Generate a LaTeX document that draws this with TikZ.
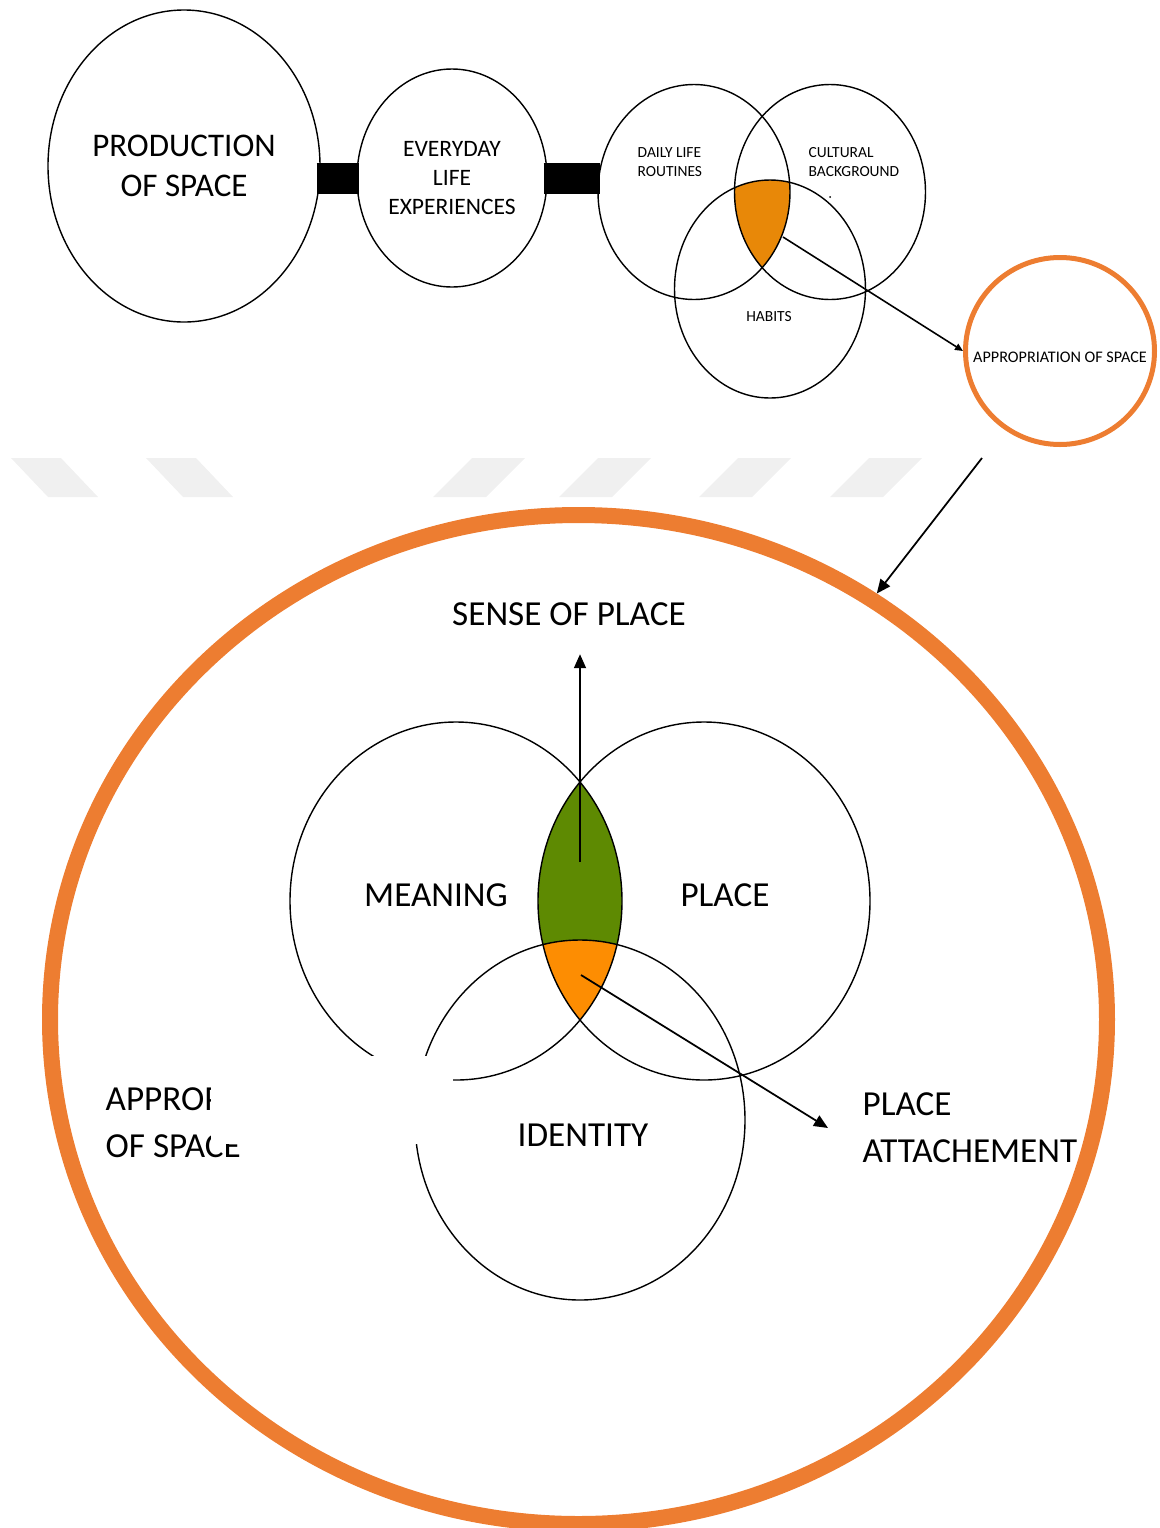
\documentclass[tikz,border=0pt]{standalone}
\usepackage{fontspec}
\setmainfont{Carlito}
\usepackage{xcolor}
\usetikzlibrary{positioning,arrows.meta,shapes.geometric,backgrounds}

\definecolor{ringorange}{RGB}{237,125,49}
\definecolor{lensorange}{RGB}{232,136,8}
\definecolor{coreorange}{RGB}{253,141,2}
\definecolor{lensgreen}{RGB}{94,138,2}
\definecolor{markgrey}{RGB}{240,240,240}

\begin{document}
\begin{tikzpicture}[
    x=0.1mm, y=-0.1mm,
    blob/.style={
        ellipse,
        draw,
        line width=0.4pt,
        inner sep=0pt,
        align=center
    },
    ring/.style={
        ellipse,
        draw=ringorange,
        inner sep=0pt
    },
    link/.style={
        line width=3.1mm,
        shorten <=-0.4mm,
        shorten >=-0.3mm
    },
    arrow/.style={
        -{Triangle[length=1.4mm,width=1.2mm]},
        line width=0.5pt
    },
    minarrow/.style={
        -{Triangle[length=0.8mm,width=0.7mm]},
        line width=0.45pt
    },
    bigtext/.style={font=\fontsize{9.4}{11.3}\selectfont},
    midtext/.style={font=\fontsize{6.7}{8.2}\selectfont},
    tinytext/.style={font=\fontsize{4.4}{5.4}\selectfont, inner sep=0pt},
    lowtext/.style={font=\fontsize{10}{13.3}\selectfont, inner sep=0pt}
]

\useasboundingbox (0,0) rectangle (1160,1528);

% Chain
\node[blob, bigtext, minimum width=27.2mm, minimum height=31.2mm] (prod) at (184,166)
{PRODUCTION\\OF SPACE};

\node[blob, midtext, minimum width=19.0mm, minimum height=21.8mm] (every) at (452,178)
{EVERYDAY\\LIFE\\EXPERIENCES};

% Small venn
\node[blob, minimum width=19.2mm, minimum height=21.5mm] (daily) at (694,192) {};
\node[blob, minimum width=19.1mm, minimum height=21.5mm] (cultural) at (830,192) {};
\node[blob, minimum width=19.1mm, minimum height=21.8mm] (habits) at (770,289) {};

\node[tinytext, align=left, anchor=west] (dailylbl) at (637,162) {DAILY LIFE\\ROUTINES};
\node[tinytext, align=left, anchor=west] (cultlbl) at (808,162) {CULTURAL\\BACKGROUND};
\node[tinytext] (habitslbl) at (769,317) {HABITS};
\fill (830,197) circle (0.1mm);

% Appropriation
\node[ring, line width=0.5mm, minimum width=18.9mm, minimum height=18.7mm] (approp) at (1060,351) {};
\node[font=\fontsize{4.6}{5.6}\selectfont, inner sep=0pt] (approplbl) at (1060,357)
{APPROPRIATION OF SPACE};

% Big circle
\node[ring, line width=1.6mm, minimum width=105.7mm, minimum height=100.9mm] (big) at (578.5,1019.5) {};

\node[blob, minimum width=33.2mm, minimum height=35.8mm] (meaning) at (456,901) {};
\node[blob, minimum width=33.2mm, minimum height=35.8mm] (place) at (704,901) {};
\node[blob, minimum width=33.0mm, minimum height=36.0mm] (identity) at (580,1120) {};

\node[lowtext] (meaninglbl) at (436,895) {MEANING};
\node[lowtext] (placelbl) at (725,895) {PLACE};
\node[lowtext] (identitylbl) at (583,1135) {IDENTITY};

\node[lowtext, inner sep=2.8mm] (sense) at (569,614) {SENSE OF PLACE};
\node[lowtext, inner sep=3.4mm, align=left, anchor=west] (attach) at (828,1128)
{PLACE\\ATTACHEMENT};
\node[lowtext, align=left, anchor=west] (apprlow) at (105,1123)
{APPROPRIATION\\OF SPACE};

% Connections
\draw[link] (prod.east |- every.west) -- (every.west);
\draw[link] (every.east) -- (every.east -| daily.west);

\coordinate (toppick) at (783,237);
\draw[minarrow] (toppick) -- (approp.west);

\coordinate (dropstart) at (982,458);
\draw[arrow] (dropstart) -- (big.55);

\coordinate (lenspick) at (580,862);
\draw[arrow] (lenspick) -- (lenspick |- sense.south);

\coordinate (corepick) at (581,975);
\draw[arrow] (corepick) -- (attach.west);

% Cover patch
\node[fill=white, inner sep=0pt, minimum width=24.2mm, minimum height=8.8mm, anchor=north west] (mask) at (210,1055) {};

% Fills
\begin{pgfonlayer}{background}
  \foreach \a/\b in {11/48,146/183}
    \fill[markgrey] (\a,458) -- (\a+50,458) -- (\b+50,497) -- (\b,497) -- cycle;
  \foreach \a in {472,598,738,869}
    \fill[markgrey] (\a,458) -- (\a+53,458) -- (\a+14,497) -- (\a-39,497) -- cycle;

  \begin{scope}
    \clip (daily.center) ellipse [x radius=9.6mm, y radius=10.75mm];
    \clip (cultural.center) ellipse [x radius=9.55mm, y radius=10.75mm];
    \fill[lensorange] (habits.center) ellipse [x radius=9.55mm, y radius=10.9mm];
  \end{scope}

  \begin{scope}
    \clip (meaning.center) ellipse [x radius=16.6mm, y radius=17.9mm];
    \fill[lensgreen] (place.center) ellipse [x radius=16.6mm, y radius=17.9mm];
    \clip (place.center) ellipse [x radius=16.6mm, y radius=17.9mm];
    \fill[coreorange] (identity.center) ellipse [x radius=16.5mm, y radius=18.0mm];
  \end{scope}
\end{pgfonlayer}

\end{tikzpicture}
\end{document}
